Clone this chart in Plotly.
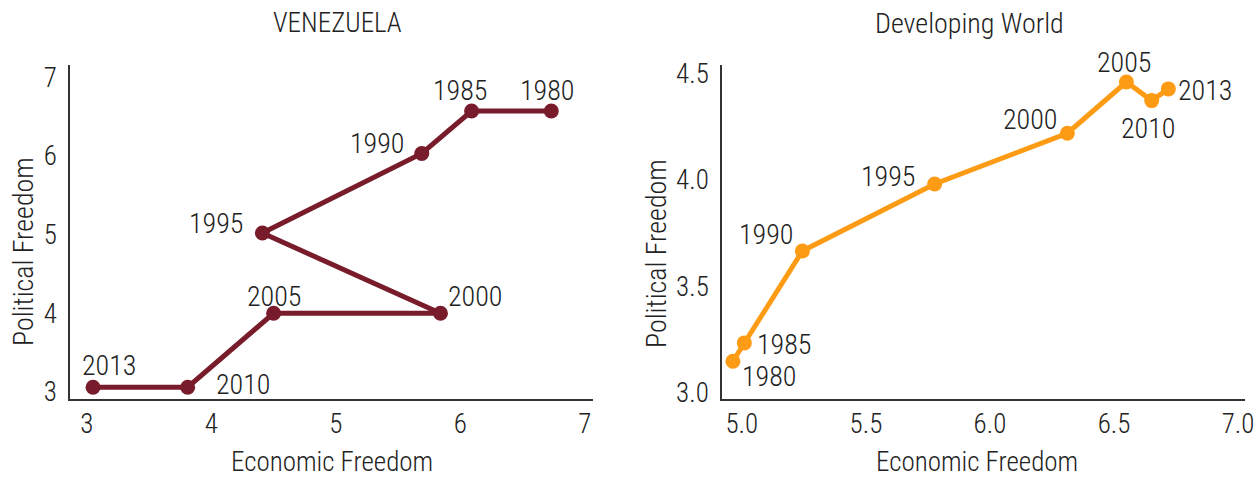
import plotly.graph_objects as go

# Venezuela
ven_years = ["1980", "1985", "1990", "1995", "2000", "2005", "2010", "2013"]
ven_econ = [6.73, 6.09, 5.69, 4.41, 5.84, 4.50, 3.81, 3.05]
ven_pol = [6.57, 6.57, 6.03, 5.02, 4.00, 4.00, 3.06, 3.06]

# Developing world
dev_years = ["1980", "1985", "1990", "1995", "2000", "2005", "2010", "2013"]
dev_econ = [4.964, 5.01, 5.244, 5.777, 6.312, 6.55, 6.652, 6.719]
dev_pol = [3.149, 3.235, 3.666, 3.98, 4.218, 4.458, 4.371, 4.426]

# label offsets (pixels) for year annotations
ven_shift = [(-4, 21), (-12, 21), (-45, 10), (-46, 9), (35, 17), (0, 17), (55, 3), (16, 22)]
dev_shift = [(36, -15), (40, -2), (-36, 16), (-47, 8), (-37, 14), (-2, 20), (-4, -28), (37, -2)]

W, H = 1257, 480
FONT = "Roboto Condensed, Roboto"
TXT = "#222222"
VEN_COLOR = "#781c2b"
DEV_COLOR = "#fd9b14"

fig = go.Figure()

fig.add_trace(go.Scatter(x=ven_econ, y=ven_pol, mode="lines+markers",
                         line=dict(color=VEN_COLOR, width=5),
                         marker=dict(color=VEN_COLOR, size=15),
                         xaxis="x", yaxis="y", hoverinfo="skip"))
fig.add_trace(go.Scatter(x=dev_econ, y=dev_pol, mode="lines+markers",
                         line=dict(color=DEV_COLOR, width=5),
                         marker=dict(color=DEV_COLOR, size=15),
                         xaxis="x2", yaxis="y2", hoverinfo="skip"))

annotations = []
lab_font = dict(family=FONT, size=28, color=TXT, weight=300)
for yr, x, y, (dx, dy) in zip(ven_years, ven_econ, ven_pol, ven_shift):
    annotations.append(dict(x=x, y=y, xref="x", yref="y", text=yr, showarrow=False,
                            xshift=dx, yshift=dy, font=lab_font))
for yr, x, y, (dx, dy) in zip(dev_years, dev_econ, dev_pol, dev_shift):
    annotations.append(dict(x=x, y=y, xref="x2", yref="y2", text=yr, showarrow=False,
                            xshift=dx, yshift=dy, font=lab_font))


def py(p):
    # pixel row -> paper y (plot area from 65 to 399)
    return (399 - p) / 334


def txt(x, y, s, size=28, angle=0):
    annotations.append(dict(x=x / W, y=py(y), xref="paper", yref="paper", text=s,
                            showarrow=False, xanchor="center", yanchor="middle",
                            textangle=angle, font=dict(family=FONT, size=size, color=TXT, weight=300)))


txt(337, 23, "VENEZUELA", 27)
txt(969, 23, "Developing World", 28)
txt(332, 462, "Economic Freedom", 27)
txt(977, 462, "Economic Freedom", 27)
txt(23, 252, "Political Freedom", 28, -90)
txt(656, 253, "Political Freedom", 28, -90)

axis_common = dict(showgrid=False, zeroline=False, showline=True, linecolor="#333333",
                   linewidth=1.5, ticks="", automargin=False,
                   tickfont=dict(family=FONT, size=27, color=TXT, weight=300))
x_common = dict(ticklabelstandoff=0, **axis_common)
y_common = dict(ticklabelstandoff=6, **axis_common)

fig.update_layout(
    width=W, height=H,
    margin=dict(l=0, r=0, t=65, b=81),
    paper_bgcolor="white", plot_bgcolor="white",
    showlegend=False,
    xaxis=dict(domain=[70 / W, 593 / W], range=[2.865, 7.065], tickvals=[3, 4, 5, 6, 7],
               anchor="y", **x_common),
    yaxis=dict(domain=[0, 1], range=[2.91, 7.155], tickvals=[3, 4, 5, 6, 7],
               anchor="x", **y_common),
    xaxis2=dict(domain=[722 / W, 1245 / W], range=[4.92, 7.028],
                tickvals=[5.0, 5.5, 6.0, 6.5, 7.0], ticktext=["5.0", "5.5", "6.0", "6.5", "7.0"],
                anchor="y2", **x_common),
    yaxis2=dict(domain=[0, 1], range=[2.972, 4.538],
                tickvals=[3.0, 3.5, 4.0, 4.5], ticktext=["3.0", "3.5", "4.0", "4.5"],
                anchor="x2", **y_common),
    annotations=annotations,
)

# the page has a default body margin that would push the figure off the window
fig.write_html("out.html", config={"displayModeBar": False},
               post_script="document.body.style.margin='0px';")
